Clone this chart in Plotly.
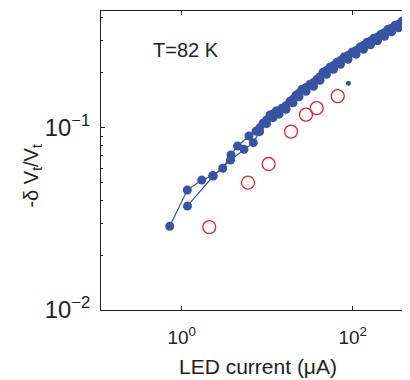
import plotly.graph_objects as go

# Sweep A (LED current in uA, -dVt/Vt)
sweep_a_current = [0.724, 1.163, 1.714, 2.306, 3.02, 3.77, 4.50, 6.12,
                   7.40, 8.93, 10.79, 12.68, 14.89, 18.49, 21.73, 25.53, 31.70, 38.19,
                   44.98, 54.20, 65.46, 79.07, 98.2, 121.6, 146.9, 177.4, 214.3, 258.8,
                   312.6, 377.6]
sweep_a_signal = [0.0288, 0.0455, 0.0516, 0.0546, 0.0599, 0.0708, 0.0794, 0.0900,
                  0.0957, 0.1059, 0.1173, 0.1233, 0.1279, 0.1397, 0.1506, 0.1626, 0.1733, 0.1845,
                  0.2014, 0.2148, 0.2286, 0.2438, 0.2594, 0.2767, 0.2944, 0.3097, 0.3258, 0.3467,
                  0.3648, 0.3837]

# Sweep B
sweep_b_current = [1.169, 2.34, 3.72, 5.35, 6.87,
                   8.13, 9.82, 11.70, 13.74, 16.60, 20.04, 23.55, 28.44, 34.79, 41.45,
                   49.37, 59.57, 71.94, 88.1, 109.3, 133.7, 161.4, 195.0, 235.5, 284.4, 343.6]
sweep_b_signal = [0.0372, 0.0543, 0.0665, 0.0762, 0.0828,
                  0.0951, 0.1052, 0.1135, 0.1186, 0.1262, 0.1369, 0.1477, 0.1585, 0.1688, 0.1820,
                  0.1963, 0.2092, 0.2228, 0.2374, 0.2529, 0.2694, 0.2851, 0.2999, 0.3172, 0.3357, 0.3532]

# Sweep C (dense upper part)
sweep_c_current = [8.13, 9.82, 11.70, 13.74, 16.60, 20.04, 23.55, 28.44, 34.79, 41.45,
                   49.37, 59.57, 71.94, 88.1, 109.3, 133.7, 161.4, 195.0, 235.5, 284.4, 343.6]
sweep_c_signal = [0.0995, 0.1102, 0.1189, 0.1242, 0.1321, 0.1433, 0.1547, 0.1660, 0.1768, 0.1905,
                  0.2056, 0.2191, 0.2333, 0.2486, 0.2649, 0.2822, 0.2985, 0.3141, 0.3322, 0.3516, 0.3698]

# Isolated small point
extra_current = [88.9]
extra_signal = [0.1754]

# Open red circles
red_current = [2.10, 5.96, 10.4, 19.0, 28.4, 37.9, 66.8]
red_signal = [0.0285, 0.0499, 0.0632, 0.0951, 0.118, 0.128, 0.149]

x_tick_vals = [1, 100]
x_tick_text = ["10<sup>0</sup>", "10<sup>2</sup>"]

blue = "#3953a4"
red = "#e8212b"
ink = "#222222"
font_family = "Liberation Sans, Arial, sans-serif"

fig = go.Figure()
fig.add_trace(go.Scatter(x=sweep_a_current, y=sweep_a_signal, mode="lines+markers",
                         line=dict(color=blue, width=1.2),
                         marker=dict(color=blue, size=9), showlegend=False))
fig.add_trace(go.Scatter(x=sweep_b_current, y=sweep_b_signal, mode="lines+markers",
                         line=dict(color=blue, width=1.2),
                         marker=dict(color=blue, size=9), showlegend=False))
fig.add_trace(go.Scatter(x=sweep_c_current, y=sweep_c_signal, mode="markers",
                         marker=dict(color=blue, size=9), showlegend=False))
fig.add_trace(go.Scatter(x=extra_current, y=extra_signal, mode="markers",
                         marker=dict(color=blue, size=5), showlegend=False))
fig.add_trace(go.Scatter(x=red_current, y=red_signal, mode="markers",
                         marker=dict(symbol="circle-open", color=red, size=13,
                                     line=dict(color=red, width=1.3)),
                         showlegend=False))

fig.add_annotation(text="T=82 K", x=0.163, y=0.87, xref="paper", yref="paper",
                   xanchor="left", yanchor="middle", showarrow=False,
                   font=dict(size=20, color=ink, family=font_family))

# Axis titles
fig.add_annotation(text="LED current (μA)", x=0.508, y=-0.188, xref="paper", yref="paper",
                   xanchor="center", yanchor="middle", showarrow=False,
                   font=dict(size=21, color=ink, family=font_family))
fig.add_annotation(text="-δ V<sub>t</sub>/V<sub>t</sub>", x=-0.223, y=0.45,
                   xref="paper", yref="paper", textangle=-90,
                   xanchor="center", yanchor="middle", showarrow=False,
                   font=dict(size=20, color=ink, family=font_family))

axis_common = dict(showline=True, linecolor=ink, linewidth=1, ticks="inside",
                   tickcolor=ink, showgrid=False, zeroline=False,
                   exponentformat="power", tickfont=dict(size=19, color=ink, family=font_family))

fig.update_xaxes(type="log", range=[-0.944, 2.67], tickmode="array",
                 tickvals=x_tick_vals, ticktext=x_tick_text, ticklen=4,
                 mirror="ticks", ticklabelstandoff=10,
                 **axis_common)
fig.update_yaxes(type="log", range=[-2, -0.36], dtick=1, ticklen=4,
                 ticklabelstandoff=6,
                 minor=dict(ticks="inside", ticklen=2, dtick="D1", tickcolor=ink, showgrid=False),
                 **axis_common)

fig.update_layout(width=402, height=372, margin=dict(l=93, r=0, t=3, b=70, autoexpand=False),
                  plot_bgcolor="white", paper_bgcolor="white",
                  font=dict(family=font_family))

fig.write_html("out.html")
